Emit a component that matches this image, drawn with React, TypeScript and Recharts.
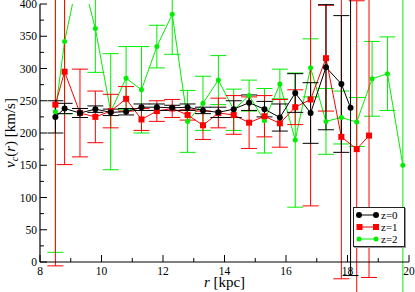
import React from 'react';
import { LineChart, Line, XAxis, YAxis, ErrorBar } from 'recharts';

// z=0
const r0 = [8.5, 8.8, 9.3, 9.8, 10.3, 10.8, 11.3, 11.8, 12.3, 12.8, 13.3, 13.8, 14.3, 14.8, 15.3, 15.8, 16.3, 16.8, 17.3, 17.8, 18.1];
const v0 = [225, 238, 231, 237, 232, 233, 240, 240, 239, 240, 235, 232, 237, 247, 237, 224, 262, 231, 302, 276, 239];
const e0 = [25, 8, 7, 5, 5, 5, 5, 5, 4, 5, 5, 8, 13, 12, 12, 21, 30, 47, 97, 106, 260];

// z=1
const r1 = [8.5, 8.8, 9.3, 9.8, 10.3, 10.8, 11.3, 11.8, 12.3, 12.8, 13.3, 13.8, 14.3, 14.8, 15.3, 15.8, 16.3, 16.8, 17.3, 17.8, 18.3, 18.7];
const v1 = [244, 295, 231, 225, 234, 253, 221, 234, 238, 228, 212, 231, 228, 216, 226, 215, 240, 252, 316, 194, 175, 196];
const e1 = [250, 144, 68, 40, 26, 19, 17, 16, 14, 8, 22, 23, 30, 40, 32, 37, 27, 165, 82, 220, 230, 220];

// z=2
const r2 = [8.5, 8.8, 9.3, 9.8, 10.3, 10.8, 11.3, 11.8, 12.3, 12.8, 13.3, 13.8, 14.3, 14.8, 15.3, 15.8, 16.3, 16.8, 17.3, 17.8, 18.3, 18.8, 19.3, 19.8];
const v2 = [233, 342, 455, 362, 233, 285, 267, 334, 384, 218, 246, 282, 236, 258, 219, 276, 189, 301, 218, 224, 217, 284, 292, 150];
const e2 = [218, 112, 40, 68, 90, 49, 67, 33, 62, 48, 42, 38, 32, 24, 50, 23, 104, 45, 51, 41, 38, 58, 57, 260];

const xTicks = [8, 9, 10, 11, 12, 13, 14, 15, 16, 17, 18, 19, 20];
const yTicks = [0, 25, 50, 75, 100, 125, 150, 175, 200, 225, 250, 275, 300, 325, 350, 375, 400];

const legendItems = ['z=0', 'z=1', 'z=2'];
const colors = ['#000000', '#ff0000', '#00ee00'];

const rows = (r: number[], v: number[], e: number[]) => r.map((x, i) => ({ r: x, v: v[i], err: e[i] }));
const d0 = rows(r0, v0, e0);
const d1 = rows(r1, v1, e1);
const d2 = rows(r2, v2, e2);

const serif = '"Liberation Serif", "DejaVu Serif", serif';

function BottomTick(p: any) {
  const major = p.payload.value % 2 === 0;
  return (
    <g>
      <line x1={p.x} y1={p.y} x2={p.x} y2={p.y - (major ? 7 : 4)} stroke="#000" />
      {major && (
        <text x={p.x} y={p.y + 13} textAnchor="middle" fontSize={11.5} fontFamily={serif} fill="#000">
          {p.payload.value}
        </text>
      )}
    </g>
  );
}

function TopTick(p: any) {
  const major = p.payload.value % 2 === 0;
  return <line x1={p.x} y1={p.y} x2={p.x} y2={p.y + (major ? 7 : 4)} stroke="#000" />;
}

function LeftTick(p: any) {
  const major = p.payload.value % 50 === 0;
  return (
    <g>
      <line x1={p.x} y1={p.y} x2={p.x + (major ? 7 : 4)} y2={p.y} stroke="#000" />
      {major && (
        <text x={p.x - 3} y={p.y} dy="0.35em" textAnchor="end" fontSize={11.5} fontFamily={serif} fill="#000">
          {p.payload.value}
        </text>
      )}
    </g>
  );
}

function RightTick(p: any) {
  const major = p.payload.value % 50 === 0;
  return <line x1={p.x} y1={p.y} x2={p.x - (major ? 7 : 4)} y2={p.y} stroke="#000" />;
}

const squareDot = (p: any) => (
  <rect key={`sq-${p.index}`} x={p.cx - 3} y={p.cy - 3} width={6} height={6} fill="#ff0000" />
);

function XLabel(p: any) {
  const vb = p.viewBox;
  return (
    <text x={vb.x + vb.width / 2} y={vb.y + 25} textAnchor="middle" fontSize={15} fontFamily={serif} fill="#000">
      <tspan fontStyle="italic">r</tspan> [kpc]
    </text>
  );
}

function YLabel(p: any) {
  const vb = p.viewBox;
  const cx = vb.x + 15;
  const cy = vb.y + vb.height / 2;
  return (
    <text x={cx} y={cy} transform={`rotate(-90 ${cx} ${cy})`} textAnchor="middle" fontSize={15} fontFamily={serif} fill="#000">
      <tspan fontStyle="italic">v</tspan>
      <tspan fontSize={10} dy={3} fontStyle="italic">c</tspan>
      <tspan dy={-3}>(</tspan>
      <tspan fontStyle="italic">r</tspan>
      <tspan>) [km/s]</tspan>
    </text>
  );
}

function LegendBox() {
  return (
    <div
      style={{
        position: 'absolute',
        left: 353,
        top: 207,
        width: 50,
        border: '1px solid #222',
        boxShadow: '1px 1px 0 #999',
        background: '#fff',
        padding: '1px 0',
        fontFamily: serif,
        fontSize: 11,
        lineHeight: '11px',
      }}
    >
      {legendItems.map((name, i) => (
        <div key={name} style={{ display: 'flex', alignItems: 'center', height: 12 }}>
          <svg width={24} height={10} style={{ marginLeft: 2 }}>
            <line x1={3} y1={5} x2={20} y2={5} stroke={colors[i]} />
            {i === 1 ? (
              <>
                <rect x={0.5} y={2} width={6} height={6} fill={colors[i]} />
                <rect x={17} y={2} width={6} height={6} fill={colors[i]} />
              </>
            ) : (
              <>
                <circle cx={3} cy={5} r={i === 0 ? 3 : 2.5} fill={colors[i]} />
                <circle cx={20} cy={5} r={i === 0 ? 3 : 2.5} fill={colors[i]} />
              </>
            )}
          </svg>
          <span style={{ marginLeft: 1 }}>{name}</span>
        </div>
      ))}
    </div>
  );
}

export default function App() {
  return (
    <div style={{ position: 'absolute', left: 0, top: 0, width: 415, height: 292, background: '#fff' }}>
      <LineChart width={415} height={292} margin={{ top: 4, right: 6, bottom: 0, left: 0 }}>
        <XAxis
          dataKey="r"
          type="number"
          domain={[8, 20]}
          ticks={xTicks}
          interval={0}
          allowDataOverflow
          height={30}
          tickSize={0}
          tickMargin={0}
          tick={BottomTick}
          axisLine={{ stroke: '#000', strokeWidth: 1.2 }}
          label={XLabel}
        />
        <XAxis
          xAxisId="top"
          orientation="top"
          type="number"
          domain={[8, 20]}
          ticks={xTicks}
          interval={0}
          height={0}
          tickSize={0}
          tickMargin={0}
          tick={TopTick}
          axisLine={{ stroke: '#000', strokeWidth: 1.2 }}
        />
        <YAxis
          type="number"
          domain={[0, 400]}
          ticks={yTicks}
          interval={0}
          allowDataOverflow
          width={40}
          tickSize={0}
          tickMargin={0}
          tick={LeftTick}
          axisLine={{ stroke: '#000', strokeWidth: 1.2 }}
          label={YLabel}
        />
        <YAxis
          yAxisId="right"
          orientation="right"
          type="number"
          domain={[0, 400]}
          ticks={yTicks}
          interval={0}
          width={0}
          tickSize={0}
          tickMargin={0}
          tick={RightTick}
          axisLine={{ stroke: '#000', strokeWidth: 1.2 }}
        />
        <Line data={d2} dataKey="v" stroke={colors[2]} strokeWidth={1} isAnimationActive={false}
          dot={{ r: 2.5, fill: colors[2], stroke: 'none' }}>
          <ErrorBar dataKey="err" direction="y" width={8} stroke={colors[2]} strokeWidth={1} />
        </Line>
        <Line data={d1} dataKey="v" stroke={colors[1]} strokeWidth={1} isAnimationActive={false} dot={squareDot}>
          <ErrorBar dataKey="err" direction="y" width={8} stroke={colors[1]} strokeWidth={1} />
        </Line>
        <Line data={d0} dataKey="v" stroke={colors[0]} strokeWidth={1} isAnimationActive={false}
          dot={{ r: 3, fill: colors[0], stroke: 'none' }}>
          <ErrorBar dataKey="err" direction="y" width={8} stroke={colors[0]} strokeWidth={1} />
        </Line>
      </LineChart>
      <LegendBox />
    </div>
  );
}
